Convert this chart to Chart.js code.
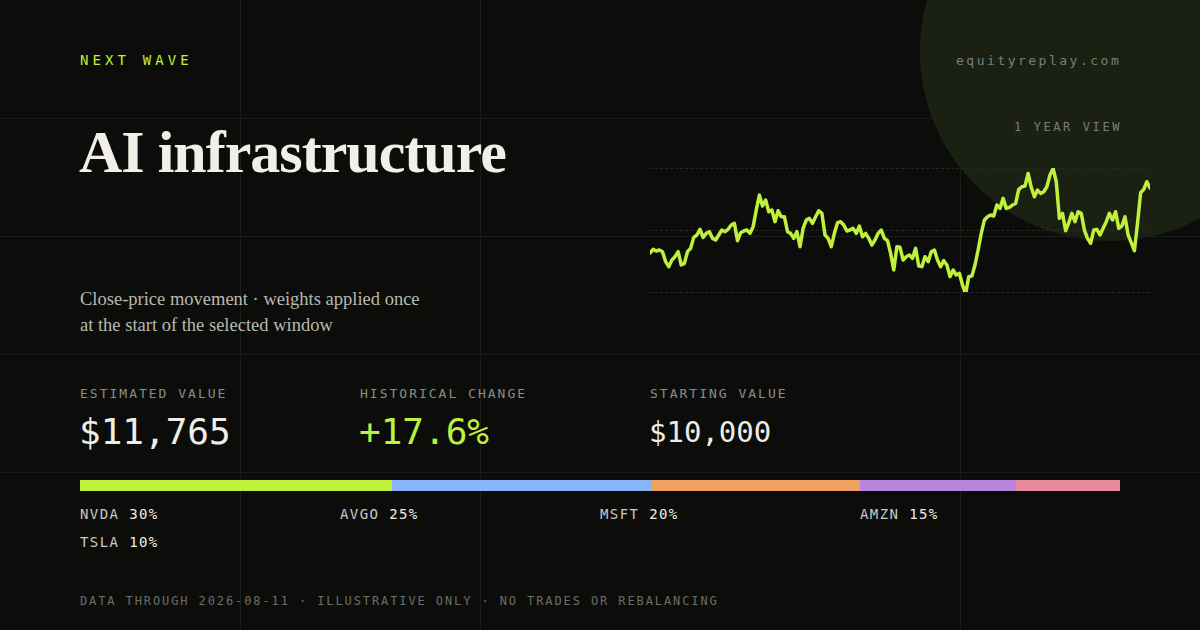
<!DOCTYPE html>
<html><head><meta charset="utf-8">
<script src="https://cdn.jsdelivr.net/npm/chart.js@4/dist/chart.umd.min.js"></script>
<style>
html,body{margin:0;padding:0;background:#0c0d0a;}
#w{position:relative;width:1200px;height:630px;overflow:hidden;background:#0c0d0a;font-family:"DejaVu Sans Mono",monospace;}
.gv{position:absolute;top:0;bottom:0;width:1px;background:#1b1d18;}
.gh{position:absolute;left:0;right:0;height:1px;background:#1b1d18;}
.circ{position:absolute;left:920px;top:-139px;width:380px;height:380px;border-radius:50%;background:#1b2112;}
.t{position:absolute;white-space:nowrap;}
.lab{font-size:13px;letter-spacing:2.0px;color:#8b8d85;}
.big{font-size:36px;color:#eeeee6;}
.dash{position:absolute;left:650px;width:500px;height:0;border-top:1px dashed #262822;}
#cw{position:absolute;left:650px;top:168px;width:500px;height:124px;}
.seg{position:absolute;top:480px;height:11px;}
.leg{font-size:14px;color:#c9cac2;letter-spacing:1.4px;}
.leg b{font-weight:normal;color:#eeeee6;}
</style></head><body>
<div id="w">
<div class="circ"></div>
<div class="gv" style="left:240px"></div><div class="gv" style="left:480px"></div><div class="gv" style="left:960px"></div>
<div class="gh" style="top:118px"></div><div class="gh" style="top:236px"></div><div class="gh" style="top:354px"></div><div class="gh" style="top:472px"></div>
<div class="t" style="left:80px;top:52px;font-size:14px;letter-spacing:4.1px;color:#bef03c">NEXT WAVE</div>
<div class="t" style="left:956px;top:53px;font-size:13px;letter-spacing:2.5px;color:#7c7e76">equityreplay.com</div>
<div class="t" style="left:1014px;top:120px;font-size:12px;letter-spacing:2.6px;color:#7c7e76">1 YEAR VIEW</div>
<div class="t" style="left:79px;top:118px;font-family:'Liberation Serif',serif;font-weight:bold;font-size:60px;color:#f1efe6;letter-spacing:-1px">AI infrastructure</div>
<div class="t" style="left:80px;top:286px;font-family:'Liberation Serif',serif;font-size:18.5px;line-height:26px;color:#b8b9b0">Close-price movement · weights applied once<br>at the start of the selected window</div>
<div class="dash" style="top:168px"></div><div class="dash" style="top:230px"></div><div class="dash" style="top:292px"></div>
<div id="cw"><canvas id="c"></canvas></div>
<div class="t lab" style="left:80px;top:386px">ESTIMATED VALUE</div>
<div class="t lab" style="left:360px;top:386px">HISTORICAL CHANGE</div>
<div class="t lab" style="left:650px;top:386px">STARTING VALUE</div>
<div class="t big" id="v1" style="left:79px;top:411px"></div>
<div class="t big" id="v2" style="left:359px;top:411px;color:#bef03c"></div>
<div class="t big" id="v3" style="left:649px;top:415px;font-size:29px"></div>
<div id="bar"></div>
<div class="t" style="left:80px;top:594px;font-size:12px;letter-spacing:1.9px;color:#6c6e66">DATA THROUGH 2026-08-11 · ILLUSTRATIVE ONLY · NO TRADES OR REBALANCING</div>
</div>
<script>
const tickers=["NVDA","AVGO","MSFT","AMZN","TSLA"];
const weights=[30,25,20,15,10];
const colors=["#bef03c","#8ab4f8","#f0a060","#b784e0","#e88898"];
const startValue=10000, endValue=11765, changePct=17.6;
const values=[10000,10100,10054,10081,10036,9765,9629,9810,9900,10036,9674,9719,10036,10127,10425,10489,10643,10425,10534,10579,10398,10353,10489,10624,10579,10643,10760,10805,10335,10552,10597,10624,10534,10715,11167,11575,11276,11439,11122,11167,10851,11149,10986,10986,10579,10534,10398,10579,10172,10670,10896,10941,10805,10986,11149,11077,10489,10398,10172,10534,10824,10851,10760,10597,10624,10670,10534,10733,10443,10534,10398,10217,10353,10534,10624,10398,10335,9991,9538,10172,10154,9810,9900,9946,9855,10127,9647,9629,9900,9765,10036,10081,9810,9629,9792,9674,9357,9538,9403,9448,9131,8887,9357,9376,9674,10081,10534,10896,10986,11032,11005,11303,11213,11484,11213,11240,11303,11348,11729,11801,11819,12163,11783,11529,11710,11620,11665,11801,12118,12299,11937,10941,11077,10606,10824,11077,10851,11122,11077,10624,10398,10262,10624,10643,10489,10670,10851,11077,10896,11122,10670,10733,10986,10489,10281,10063,10805,11638,11729,11937,11765];
const labels=values.map((v,i)=>i);
document.getElementById('v1').textContent='$'+endValue.toLocaleString('en-US');
document.getElementById('v2').textContent='+'+changePct.toFixed(1)+'%';
document.getElementById('v3').textContent='$'+startValue.toLocaleString('en-US');
let x=80;const bar=document.getElementById('bar'),w=document.getElementById('w');
weights.forEach((p,i)=>{const d=document.createElement('div');d.className='seg';d.style.left=x+'px';d.style.width=(1040*p/100)+'px';d.style.background=colors[i];bar.appendChild(d);x+=1040*p/100;
const l=document.createElement('div');l.className='t leg';const col=i%4,row=Math.floor(i/4);l.style.left=(80+col*260)+'px';l.style.top=(506+row*28)+'px';l.innerHTML=tickers[i]+' <b>'+p+'%</b>';w.appendChild(l);});
new Chart(document.getElementById('c'),{type:'line',data:{labels,datasets:[{data:values,borderColor:'#bef03c',borderWidth:3.5,pointRadius:0,tension:0,clip:false,borderJoinStyle:'round',borderCapStyle:'round'}]},
options:{responsive:true,maintainAspectRatio:false,animation:false,layout:{padding:0},plugins:{legend:{display:false},tooltip:{enabled:false}},
scales:{x:{display:false,offset:false},y:{display:false,min:8940,max:12310}}}});
</script></body></html>
